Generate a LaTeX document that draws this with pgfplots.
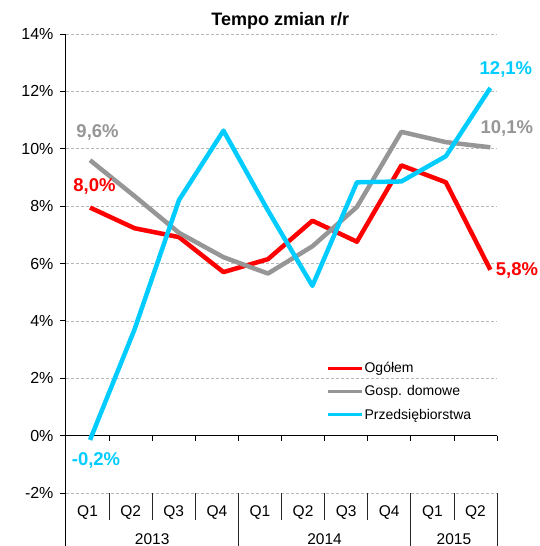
\documentclass[border=0pt]{standalone}
\usepackage{pgfplots}
\pgfplotsset{compat=1.18}
\usepackage{fontspec}
\setmainfont{Liberation Sans}
\definecolor{cred}{RGB}{255,0,0}
\definecolor{cgray}{RGB}{150,150,150}
\definecolor{cblue}{RGB}{0,204,255}
\begin{document}
\begin{tikzpicture}[x=1pt,y=1pt]
\useasboundingbox (0,0) rectangle (539,546);
% frame axis: grid, y axis, category table
\begin{axis}[
  at={(66pt,53pt)}, anchor=south west,
  width=431pt, height=459pt, scale only axis,
  xmin=0, xmax=10, ymin=-2, ymax=14,
  axis x line=none, axis y line=left,
  axis line style={-, black, line width=1pt},
  ytick={-2,0,...,14}, xtick=\empty,
  tick align=outside, major tick length=6pt,
  ytick style={black, line width=0.8pt},
  ymajorgrids,
  major grid style={black!28, line width=0.7pt, dash pattern=on 3pt off 2pt},
  yticklabel={\pgfmathprintnumber{\tick}\%},
  /pgf/number format/assume math mode=true,
  yticklabel style={font=\fontsize{16}{18}\selectfont, xshift=-3pt},
  clip=false,
]
\draw[black, line width=1pt] (axis cs:0,-2) -- (axis cs:0,-3.95);
\draw[black, line width=1pt] (axis cs:0,0) -- (axis cs:10,0);
\pgfplotsinvokeforeach{1,...,10}{\draw[black, line width=0.8pt] (axis cs:#1,0) -- (axis cs:#1,-0.2);}
\pgfplotsinvokeforeach{1,2,3,5,6,7,9}{\draw[black!85, line width=0.8pt] (axis cs:#1,-2) -- (axis cs:#1,-2.95);}
\pgfplotsinvokeforeach{4,8,10}{\draw[black!85, line width=0.8pt] (axis cs:#1,-2) -- (axis cs:#1,-3.95);}
\node[anchor=base, font=\fontsize{15.5}{18}\selectfont] at (axis cs:0.5,-2.82) {Q1};
\node[anchor=base, font=\fontsize{15.5}{18}\selectfont] at (axis cs:1.5,-2.82) {Q2};
\node[anchor=base, font=\fontsize{15.5}{18}\selectfont] at (axis cs:2.5,-2.82) {Q3};
\node[anchor=base, font=\fontsize{15.5}{18}\selectfont] at (axis cs:3.5,-2.82) {Q4};
\node[anchor=base, font=\fontsize{15.5}{18}\selectfont] at (axis cs:4.5,-2.82) {Q1};
\node[anchor=base, font=\fontsize{15.5}{18}\selectfont] at (axis cs:5.5,-2.82) {Q2};
\node[anchor=base, font=\fontsize{15.5}{18}\selectfont] at (axis cs:6.5,-2.82) {Q3};
\node[anchor=base, font=\fontsize{15.5}{18}\selectfont] at (axis cs:7.5,-2.82) {Q4};
\node[anchor=base, font=\fontsize{15.5}{18}\selectfont] at (axis cs:8.5,-2.82) {Q1};
\node[anchor=base, font=\fontsize{15.5}{18}\selectfont] at (axis cs:9.5,-2.82) {Q2};
\node[anchor=base, font=\fontsize{15.5}{18}\selectfont] at (axis cs:2,-3.78) {2013};
\node[anchor=base, font=\fontsize{15.5}{18}\selectfont] at (axis cs:6,-3.78) {2014};
\node[anchor=base, font=\fontsize{15.5}{18}\selectfont] at (axis cs:9,-3.78) {2015};
\node[anchor=base, font=\bfseries\fontsize{18}{21}\selectfont, yshift=8.5pt] at (rel axis cs:0.497,1) {Tempo zmian r/r};
\end{axis}
% data axis
\begin{axis}[
  at={(66pt,53pt)}, anchor=south west,
  width=431pt, height=459pt, scale only axis,
  xmin=-0.54, xmax=9.15, ymin=-2, ymax=14,
  hide axis, clip=false,
  legend image code/.code={\draw[#1, line width=3.5pt] (0pt,0pt) -- (34pt,0pt);},
  legend style={draw=none, fill=none, at={(0.603,0.287)}, anchor=north west,
    font=\fontsize{14}{16}\selectfont, row sep=9.5pt, inner sep=0pt,
    nodes={inner xsep=1pt, inner ysep=1pt}},
  legend cell align=left,
]
\addplot[cred, line width=4.5pt, line join=round] coordinates {
 (0,7.95) (1,7.23) (2,6.92) (3,5.70) (4,6.15) (5,7.49) (6,6.76) (7,9.42) (8,8.83) (9,5.78)};
\addlegendentry{Ogółem}
\addplot[cgray, line width=4.5pt, line join=round] coordinates {
 (0,9.60) (1,8.35) (2,7.07) (3,6.22) (4,5.65) (5,6.60) (6,7.97) (7,10.59) (8,10.23) (9,10.05)};
\addlegendentry{Gosp. domowe}
\addplot[cblue, line width=4.5pt, line join=round] coordinates {
 (0,-0.15) (1,3.70) (2,8.21) (3,10.63) (4,7.85) (5,5.22) (6,8.83) (7,8.86) (8,9.74) (9,12.12)};
\addlegendentry{Przedsiębiorstwa}
\node[font=\bfseries\fontsize{18.5}{20}\selectfont, text=cred] at (axis cs:0.10,8.70) {8,0\%};
\node[font=\bfseries\fontsize{18.5}{20}\selectfont, text=cgray] at (axis cs:0.17,10.58) {9,6\%};
\node[font=\bfseries\fontsize{18.5}{20}\selectfont, text=cblue] at (axis cs:0.135,-0.85) {-0,2\%};
\node[font=\bfseries\fontsize{18.5}{20}\selectfont, text=cblue] at (axis cs:9.35,12.75) {12,1\%};
\node[font=\bfseries\fontsize{18.5}{20}\selectfont, text=cgray] at (axis cs:9.37,10.69) {10,1\%};
\node[font=\bfseries\fontsize{18.5}{20}\selectfont, text=cred] at (axis cs:9.60,5.77) {5,8\%};
\end{axis}
\end{tikzpicture}
\end{document}
